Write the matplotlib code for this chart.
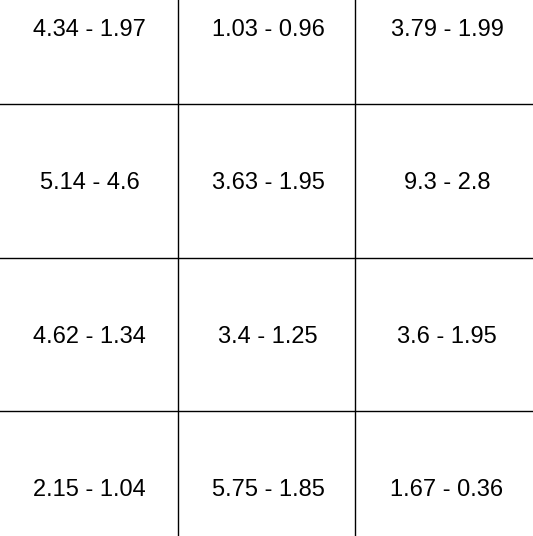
import matplotlib
matplotlib.use("Agg")
import matplotlib.pyplot as plt

cells = [
    ["4.34 - 1.97", "1.03 - 0.96", "3.79 - 1.99"],
    ["5.14 - 4.6", "3.63 - 1.95", "9.3 - 2.8"],
    ["4.62 - 1.34", "3.4 - 1.25", "3.6 - 1.95"],
    ["2.15 - 1.04", "5.75 - 1.85", "1.67 - 0.36"],
]

fig = plt.figure(figsize=(5.33, 5.36), dpi=100)
ax = fig.add_axes([0, 0, 1, 1])
ax.set_xlim(1 - 178 / 177, 2 + 178 / 177)
ax.set_ylim(3 + 125 / 153.5, 1 - 104 / 153.5)
ax.axis("off")

for c in (1, 2):
    ax.axvline(c, color="black", lw=1)
for r in (1, 2, 3):
    ax.axhline(r, color="black", lw=1)

for r, row in enumerate(cells):
    for c, txt in enumerate(row):
        x = c + 0.5 + 0.01 * c
        ax.text(x, r + 0.515, txt, ha="center", va="center",
                fontsize=17, family="Liberation Sans", color="black")

fig.savefig("out.png", dpi=100)
